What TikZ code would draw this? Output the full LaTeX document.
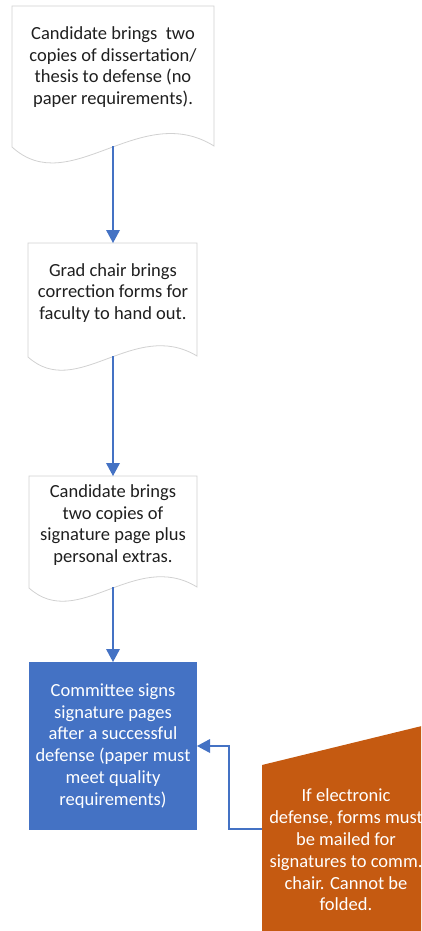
\documentclass[tikz,border=0pt]{standalone}
\usepackage{fontspec}
\setmainfont{Carlito}
\usepackage{xcolor}
\usepackage{tikz}
\definecolor{flowblue}{HTML}{4472C4}
\definecolor{noteorange}{HTML}{C55A11}
\begin{document}
\begin{tikzpicture}[x=1pt,y=1pt,
  doc/.style={draw=black!18,fill=white,line width=0.8pt},
  txt/.style={inner sep=0pt,align=center,font=\fontsize{18.5}{21.8}\selectfont,text=black!88},
  flow/.style={draw=flowblue,line width=2pt},
  tip/.style={fill=flowblue}]
\useasboundingbox (0,0) rectangle (421,-931);
\clip (0,0) rectangle (421,-931);
% documents
\draw [doc] (12,-6) -- (214,-6) -- (214,-146) .. controls (140,-100) and (70,-200) .. (12,-147) -- cycle;
\node [txt] (copies) at (113,-67) {Candidate brings\ \ two\\copies of dissertation/\\thesis to defense (no\\paper requirements).};
\draw [doc] (28,-243) -- (197,-243) -- (197,-356) .. controls (134,-318) and (77,-401) .. (28,-357) -- cycle;
\node [txt] (forms) at (113,-293) {Grad chair brings\\correction forms for\\faculty to hand out.};
\draw [doc] (29,-476) -- (197,-476) -- (197,-587) .. controls (135,-549) and (78,-632) .. (29,-588) -- cycle;
\node [txt] (extras) at (113,-525) {Candidate brings\\two copies of\\signature page plus\\personal extras.};
% committee and note
\fill [flowblue] (29,-662) rectangle (197,-830);
\node [txt,text=white] (signs) at (113,-746) {Committee signs\\signature pages\\after a successful\\defense (paper must\\meet quality\\requirements)};
\fill [noteorange] (262,-765) -- (430,-724) -- (430,-940) -- (262,-940) -- cycle;
\node [txt,text=white] (mail) at (346,-850) {If electronic\\defense, forms must\\be mailed for\\signatures to comm.\\chair. Cannot be\\folded.};
\coordinate (copies b) at (113,-146);
\coordinate (forms t) at (113,-243);
\coordinate (forms b) at (113,-356);
\coordinate (extras t) at (113,-476);
\coordinate (extras b) at (113,-587);
\coordinate (signs t) at (113,-662);
\coordinate (signs r) at (197,-746);
\coordinate (mail l) at (262,-829);
\coordinate (bend) at (229,-829);
% connectors
\draw [flow,shorten >=12pt] (copies b) -- (forms t);
\fill [tip] (forms t) -- ++(-7,13) -- ++(14,0) -- cycle;
\draw [flow,shorten >=12pt] (forms b) -- (extras t);
\fill [tip] (extras t) -- ++(-7,13) -- ++(14,0) -- cycle;
\draw [flow,shorten >=12pt] (extras b) -- (signs t);
\fill [tip] (signs t) -- ++(-7,13) -- ++(14,0) -- cycle;
\draw [flow,line width=1.5pt,shorten >=12pt] (mail l) -- (bend) |- (signs r);
\fill [tip] (signs r) -- ++(13,7) -- ++(0,-14) -- cycle;
\end{tikzpicture}
\end{document}
